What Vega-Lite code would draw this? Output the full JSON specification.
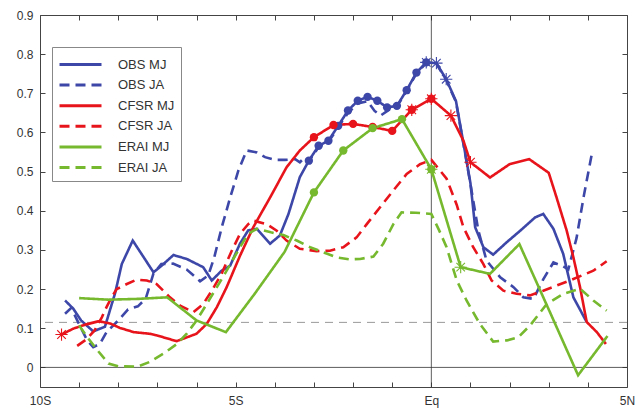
{
  "$schema": "https://vega.github.io/schema/vega-lite/v6.json",
  "width": 587,
  "height": 372,
  "autosize": {"type": "none"},
  "padding": {"left": 40, "top": 15, "right": 11, "bottom": 27},
  "background": "white",
  "config": {"view": {"stroke": null}, "font": "Liberation Sans"},
  "datasets": {
    "d": [
      {"s":"OBS MJ","x":-9.36,"y":0.171,"mk":""},
      {"s":"OBS MJ","x":-9.15,"y":0.150,"mk":""},
      {"s":"OBS MJ","x":-8.95,"y":0.120,"mk":""},
      {"s":"OBS MJ","x":-8.64,"y":0.092,"mk":""},
      {"s":"OBS MJ","x":-8.34,"y":0.104,"mk":""},
      {"s":"OBS MJ","x":-8.08,"y":0.190,"mk":""},
      {"s":"OBS MJ","x":-7.91,"y":0.264,"mk":""},
      {"s":"OBS MJ","x":-7.63,"y":0.324,"mk":""},
      {"s":"OBS MJ","x":-7.10,"y":0.243,"mk":""},
      {"s":"OBS MJ","x":-6.89,"y":0.260,"mk":""},
      {"s":"OBS MJ","x":-6.59,"y":0.287,"mk":""},
      {"s":"OBS MJ","x":-6.25,"y":0.277,"mk":""},
      {"s":"OBS MJ","x":-5.83,"y":0.256,"mk":""},
      {"s":"OBS MJ","x":-5.61,"y":0.222,"mk":""},
      {"s":"OBS MJ","x":-5.36,"y":0.247,"mk":""},
      {"s":"OBS MJ","x":-5.14,"y":0.260,"mk":""},
      {"s":"OBS MJ","x":-4.89,"y":0.316,"mk":""},
      {"s":"OBS MJ","x":-4.68,"y":0.350,"mk":""},
      {"s":"OBS MJ","x":-4.46,"y":0.354,"mk":""},
      {"s":"OBS MJ","x":-4.12,"y":0.316,"mk":""},
      {"s":"OBS MJ","x":-3.87,"y":0.337,"mk":""},
      {"s":"OBS MJ","x":-3.65,"y":0.392,"mk":""},
      {"s":"OBS MJ","x":-3.36,"y":0.486,"mk":""},
      {"s":"OBS MJ","x":-3.13,"y":0.528,"mk":"dot"},
      {"s":"OBS MJ","x":-2.88,"y":0.566,"mk":"dot"},
      {"s":"OBS MJ","x":-2.63,"y":0.579,"mk":"dot"},
      {"s":"OBS MJ","x":-2.38,"y":0.617,"mk":"dot"},
      {"s":"OBS MJ","x":-2.13,"y":0.656,"mk":"dot"},
      {"s":"OBS MJ","x":-1.88,"y":0.681,"mk":"dot"},
      {"s":"OBS MJ","x":-1.63,"y":0.691,"mk":"dot"},
      {"s":"OBS MJ","x":-1.38,"y":0.681,"mk":"dot"},
      {"s":"OBS MJ","x":-1.13,"y":0.664,"mk":"dot"},
      {"s":"OBS MJ","x":-0.88,"y":0.668,"mk":"dot"},
      {"s":"OBS MJ","x":-0.63,"y":0.708,"mk":"dot"},
      {"s":"OBS MJ","x":-0.38,"y":0.753,"mk":"dot"},
      {"s":"OBS MJ","x":-0.13,"y":0.779,"mk":"dotstar"},
      {"s":"OBS MJ","x":0.13,"y":0.777,"mk":"star"},
      {"s":"OBS MJ","x":0.38,"y":0.736,"mk":"star"},
      {"s":"OBS MJ","x":0.63,"y":0.680,"mk":""},
      {"s":"OBS MJ","x":0.86,"y":0.550,"mk":""},
      {"s":"OBS MJ","x":1.00,"y":0.470,"mk":""},
      {"s":"OBS MJ","x":1.12,"y":0.358,"mk":""},
      {"s":"OBS MJ","x":1.33,"y":0.307,"mk":""},
      {"s":"OBS MJ","x":1.58,"y":0.288,"mk":""},
      {"s":"OBS MJ","x":1.93,"y":0.320,"mk":""},
      {"s":"OBS MJ","x":2.27,"y":0.349,"mk":""},
      {"s":"OBS MJ","x":2.65,"y":0.383,"mk":""},
      {"s":"OBS MJ","x":2.86,"y":0.392,"mk":""},
      {"s":"OBS MJ","x":3.12,"y":0.354,"mk":""},
      {"s":"OBS MJ","x":3.37,"y":0.290,"mk":""},
      {"s":"OBS MJ","x":3.63,"y":0.179,"mk":""},
      {"s":"OBS MJ","x":3.97,"y":0.116,"mk":""},

      {"s":"OBS JA","x":-9.36,"y":0.137,"mk":""},
      {"s":"OBS JA","x":-9.20,"y":0.152,"mk":""},
      {"s":"OBS JA","x":-9.00,"y":0.110,"mk":""},
      {"s":"OBS JA","x":-8.80,"y":0.070,"mk":""},
      {"s":"OBS JA","x":-8.64,"y":0.052,"mk":""},
      {"s":"OBS JA","x":-8.47,"y":0.060,"mk":""},
      {"s":"OBS JA","x":-8.30,"y":0.090,"mk":""},
      {"s":"OBS JA","x":-8.00,"y":0.120,"mk":""},
      {"s":"OBS JA","x":-7.75,"y":0.148,"mk":""},
      {"s":"OBS JA","x":-7.50,"y":0.156,"mk":""},
      {"s":"OBS JA","x":-7.30,"y":0.175,"mk":""},
      {"s":"OBS JA","x":-7.10,"y":0.240,"mk":""},
      {"s":"OBS JA","x":-6.90,"y":0.264,"mk":""},
      {"s":"OBS JA","x":-6.60,"y":0.265,"mk":""},
      {"s":"OBS JA","x":-6.25,"y":0.250,"mk":""},
      {"s":"OBS JA","x":-5.91,"y":0.220,"mk":""},
      {"s":"OBS JA","x":-5.70,"y":0.235,"mk":""},
      {"s":"OBS JA","x":-5.55,"y":0.280,"mk":""},
      {"s":"OBS JA","x":-5.35,"y":0.360,"mk":""},
      {"s":"OBS JA","x":-5.14,"y":0.434,"mk":""},
      {"s":"OBS JA","x":-4.93,"y":0.503,"mk":""},
      {"s":"OBS JA","x":-4.72,"y":0.554,"mk":""},
      {"s":"OBS JA","x":-4.46,"y":0.549,"mk":""},
      {"s":"OBS JA","x":-4.25,"y":0.537,"mk":""},
      {"s":"OBS JA","x":-4.00,"y":0.530,"mk":""},
      {"s":"OBS JA","x":-3.74,"y":0.530,"mk":""},
      {"s":"OBS JA","x":-3.48,"y":0.532,"mk":""},
      {"s":"OBS JA","x":-3.36,"y":0.524,"mk":""},
      {"s":"OBS JA","x":-3.23,"y":0.537,"mk":""},
      {"s":"OBS JA","x":-3.13,"y":0.526,"mk":""},
      {"s":"OBS JA","x":-2.88,"y":0.563,"mk":""},
      {"s":"OBS JA","x":-2.63,"y":0.576,"mk":""},
      {"s":"OBS JA","x":-2.38,"y":0.613,"mk":""},
      {"s":"OBS JA","x":-2.13,"y":0.650,"mk":""},
      {"s":"OBS JA","x":-1.88,"y":0.674,"mk":""},
      {"s":"OBS JA","x":-1.63,"y":0.680,"mk":""},
      {"s":"OBS JA","x":-1.45,"y":0.655,"mk":""},
      {"s":"OBS JA","x":-1.30,"y":0.643,"mk":""},
      {"s":"OBS JA","x":-1.05,"y":0.660,"mk":""},
      {"s":"OBS JA","x":-0.88,"y":0.666,"mk":""},
      {"s":"OBS JA","x":-0.63,"y":0.706,"mk":""},
      {"s":"OBS JA","x":-0.38,"y":0.751,"mk":""},
      {"s":"OBS JA","x":-0.13,"y":0.777,"mk":""},
      {"s":"OBS JA","x":0.13,"y":0.775,"mk":""},
      {"s":"OBS JA","x":0.38,"y":0.734,"mk":""},
      {"s":"OBS JA","x":0.63,"y":0.678,"mk":""},
      {"s":"OBS JA","x":0.86,"y":0.548,"mk":""},
      {"s":"OBS JA","x":1.00,"y":0.468,"mk":""},
      {"s":"OBS JA","x":1.20,"y":0.350,"mk":""},
      {"s":"OBS JA","x":1.41,"y":0.273,"mk":""},
      {"s":"OBS JA","x":1.76,"y":0.230,"mk":""},
      {"s":"OBS JA","x":2.10,"y":0.205,"mk":""},
      {"s":"OBS JA","x":2.35,"y":0.179,"mk":""},
      {"s":"OBS JA","x":2.61,"y":0.175,"mk":""},
      {"s":"OBS JA","x":2.86,"y":0.225,"mk":""},
      {"s":"OBS JA","x":3.12,"y":0.268,"mk":""},
      {"s":"OBS JA","x":3.37,"y":0.258,"mk":""},
      {"s":"OBS JA","x":3.50,"y":0.250,"mk":""},
      {"s":"OBS JA","x":3.71,"y":0.330,"mk":""},
      {"s":"OBS JA","x":3.90,"y":0.440,"mk":""},
      {"s":"OBS JA","x":4.12,"y":0.555,"mk":""},

      {"s":"CFSR MJ","x":-9.45,"y":0.084,"mk":"star"},
      {"s":"CFSR MJ","x":-9.15,"y":0.099,"mk":""},
      {"s":"CFSR MJ","x":-8.85,"y":0.109,"mk":""},
      {"s":"CFSR MJ","x":-8.50,"y":0.118,"mk":""},
      {"s":"CFSR MJ","x":-8.20,"y":0.112,"mk":""},
      {"s":"CFSR MJ","x":-7.96,"y":0.101,"mk":""},
      {"s":"CFSR MJ","x":-7.60,"y":0.090,"mk":""},
      {"s":"CFSR MJ","x":-7.20,"y":0.086,"mk":""},
      {"s":"CFSR MJ","x":-7.02,"y":0.082,"mk":""},
      {"s":"CFSR MJ","x":-6.51,"y":0.067,"mk":""},
      {"s":"CFSR MJ","x":-6.00,"y":0.086,"mk":""},
      {"s":"CFSR MJ","x":-5.74,"y":0.111,"mk":""},
      {"s":"CFSR MJ","x":-5.48,"y":0.154,"mk":""},
      {"s":"CFSR MJ","x":-5.23,"y":0.205,"mk":""},
      {"s":"CFSR MJ","x":-4.89,"y":0.285,"mk":""},
      {"s":"CFSR MJ","x":-4.55,"y":0.358,"mk":""},
      {"s":"CFSR MJ","x":-4.12,"y":0.434,"mk":""},
      {"s":"CFSR MJ","x":-3.70,"y":0.511,"mk":""},
      {"s":"CFSR MJ","x":-3.36,"y":0.554,"mk":""},
      {"s":"CFSR MJ","x":-3.00,"y":0.588,"mk":"dot"},
      {"s":"CFSR MJ","x":-2.50,"y":0.619,"mk":"dot"},
      {"s":"CFSR MJ","x":-2.00,"y":0.622,"mk":"dot"},
      {"s":"CFSR MJ","x":-1.50,"y":0.614,"mk":"dot"},
      {"s":"CFSR MJ","x":-1.00,"y":0.604,"mk":"dot"},
      {"s":"CFSR MJ","x":-0.50,"y":0.658,"mk":"dotstar"},
      {"s":"CFSR MJ","x":0.00,"y":0.686,"mk":"dotstar"},
      {"s":"CFSR MJ","x":0.50,"y":0.643,"mk":"star"},
      {"s":"CFSR MJ","x":0.82,"y":0.579,"mk":""},
      {"s":"CFSR MJ","x":1.00,"y":0.524,"mk":"star"},
      {"s":"CFSR MJ","x":1.50,"y":0.485,"mk":""},
      {"s":"CFSR MJ","x":2.00,"y":0.519,"mk":""},
      {"s":"CFSR MJ","x":2.50,"y":0.532,"mk":""},
      {"s":"CFSR MJ","x":3.00,"y":0.497,"mk":""},
      {"s":"CFSR MJ","x":3.20,"y":0.434,"mk":""},
      {"s":"CFSR MJ","x":3.46,"y":0.349,"mk":""},
      {"s":"CFSR MJ","x":3.63,"y":0.281,"mk":""},
      {"s":"CFSR MJ","x":3.80,"y":0.205,"mk":""},
      {"s":"CFSR MJ","x":3.97,"y":0.116,"mk":""},
      {"s":"CFSR MJ","x":4.23,"y":0.090,"mk":""},
      {"s":"CFSR MJ","x":4.46,"y":0.060,"mk":""},

      {"s":"CFSR JA","x":-9.05,"y":0.055,"mk":""},
      {"s":"CFSR JA","x":-8.81,"y":0.072,"mk":""},
      {"s":"CFSR JA","x":-8.60,"y":0.095,"mk":""},
      {"s":"CFSR JA","x":-8.42,"y":0.128,"mk":""},
      {"s":"CFSR JA","x":-8.30,"y":0.154,"mk":""},
      {"s":"CFSR JA","x":-8.17,"y":0.179,"mk":""},
      {"s":"CFSR JA","x":-8.04,"y":0.200,"mk":""},
      {"s":"CFSR JA","x":-7.78,"y":0.213,"mk":""},
      {"s":"CFSR JA","x":-7.53,"y":0.224,"mk":""},
      {"s":"CFSR JA","x":-7.27,"y":0.222,"mk":""},
      {"s":"CFSR JA","x":-7.02,"y":0.213,"mk":""},
      {"s":"CFSR JA","x":-6.68,"y":0.179,"mk":""},
      {"s":"CFSR JA","x":-6.42,"y":0.158,"mk":""},
      {"s":"CFSR JA","x":-6.08,"y":0.141,"mk":""},
      {"s":"CFSR JA","x":-5.83,"y":0.162,"mk":""},
      {"s":"CFSR JA","x":-5.61,"y":0.196,"mk":""},
      {"s":"CFSR JA","x":-5.36,"y":0.239,"mk":""},
      {"s":"CFSR JA","x":-5.10,"y":0.298,"mk":""},
      {"s":"CFSR JA","x":-4.89,"y":0.341,"mk":""},
      {"s":"CFSR JA","x":-4.68,"y":0.366,"mk":""},
      {"s":"CFSR JA","x":-4.55,"y":0.375,"mk":""},
      {"s":"CFSR JA","x":-4.21,"y":0.366,"mk":""},
      {"s":"CFSR JA","x":-3.95,"y":0.349,"mk":""},
      {"s":"CFSR JA","x":-3.70,"y":0.324,"mk":""},
      {"s":"CFSR JA","x":-3.36,"y":0.303,"mk":""},
      {"s":"CFSR JA","x":-2.93,"y":0.297,"mk":""},
      {"s":"CFSR JA","x":-2.59,"y":0.298,"mk":""},
      {"s":"CFSR JA","x":-2.25,"y":0.307,"mk":""},
      {"s":"CFSR JA","x":-1.91,"y":0.332,"mk":""},
      {"s":"CFSR JA","x":-1.65,"y":0.366,"mk":""},
      {"s":"CFSR JA","x":-1.31,"y":0.409,"mk":""},
      {"s":"CFSR JA","x":-0.97,"y":0.452,"mk":""},
      {"s":"CFSR JA","x":-0.63,"y":0.494,"mk":""},
      {"s":"CFSR JA","x":-0.29,"y":0.519,"mk":""},
      {"s":"CFSR JA","x":0.00,"y":0.530,"mk":""},
      {"s":"CFSR JA","x":0.39,"y":0.482,"mk":""},
      {"s":"CFSR JA","x":0.65,"y":0.415,"mk":""},
      {"s":"CFSR JA","x":0.82,"y":0.358,"mk":""},
      {"s":"CFSR JA","x":1.07,"y":0.307,"mk":""},
      {"s":"CFSR JA","x":1.33,"y":0.264,"mk":""},
      {"s":"CFSR JA","x":1.54,"y":0.222,"mk":""},
      {"s":"CFSR JA","x":1.84,"y":0.196,"mk":""},
      {"s":"CFSR JA","x":2.18,"y":0.188,"mk":""},
      {"s":"CFSR JA","x":2.52,"y":0.184,"mk":""},
      {"s":"CFSR JA","x":2.86,"y":0.196,"mk":""},
      {"s":"CFSR JA","x":3.20,"y":0.209,"mk":""},
      {"s":"CFSR JA","x":3.54,"y":0.222,"mk":""},
      {"s":"CFSR JA","x":4.14,"y":0.247,"mk":""},
      {"s":"CFSR JA","x":4.48,"y":0.271,"mk":""},

      {"s":"ERAI MJ","x":-9.00,"y":0.177,"mk":""},
      {"s":"ERAI MJ","x":-8.25,"y":0.173,"mk":""},
      {"s":"ERAI MJ","x":-7.50,"y":0.175,"mk":""},
      {"s":"ERAI MJ","x":-6.75,"y":0.179,"mk":""},
      {"s":"ERAI MJ","x":-6.00,"y":0.120,"mk":""},
      {"s":"ERAI MJ","x":-5.25,"y":0.090,"mk":""},
      {"s":"ERAI MJ","x":-4.50,"y":0.190,"mk":""},
      {"s":"ERAI MJ","x":-3.75,"y":0.295,"mk":""},
      {"s":"ERAI MJ","x":-3.00,"y":0.447,"mk":"dot"},
      {"s":"ERAI MJ","x":-2.25,"y":0.554,"mk":"dot"},
      {"s":"ERAI MJ","x":-1.50,"y":0.611,"mk":"dot"},
      {"s":"ERAI MJ","x":-0.75,"y":0.634,"mk":"dot"},
      {"s":"ERAI MJ","x":0.00,"y":0.506,"mk":"dotstar"},
      {"s":"ERAI MJ","x":0.75,"y":0.256,"mk":"star"},
      {"s":"ERAI MJ","x":1.50,"y":0.239,"mk":""},
      {"s":"ERAI MJ","x":2.25,"y":0.315,"mk":""},
      {"s":"ERAI MJ","x":3.00,"y":0.148,"mk":""},
      {"s":"ERAI MJ","x":3.75,"y":-0.020,"mk":""},
      {"s":"ERAI MJ","x":4.50,"y":0.080,"mk":""},

      {"s":"ERAI JA","x":-9.00,"y":0.107,"mk":""},
      {"s":"ERAI JA","x":-8.75,"y":0.072,"mk":""},
      {"s":"ERAI JA","x":-8.50,"y":0.040,"mk":""},
      {"s":"ERAI JA","x":-8.25,"y":0.010,"mk":""},
      {"s":"ERAI JA","x":-8.00,"y":0.003,"mk":""},
      {"s":"ERAI JA","x":-7.50,"y":0.002,"mk":""},
      {"s":"ERAI JA","x":-7.20,"y":0.014,"mk":""},
      {"s":"ERAI JA","x":-6.85,"y":0.035,"mk":""},
      {"s":"ERAI JA","x":-6.50,"y":0.060,"mk":""},
      {"s":"ERAI JA","x":-6.25,"y":0.086,"mk":""},
      {"s":"ERAI JA","x":-6.00,"y":0.120,"mk":""},
      {"s":"ERAI JA","x":-5.74,"y":0.162,"mk":""},
      {"s":"ERAI JA","x":-5.48,"y":0.205,"mk":""},
      {"s":"ERAI JA","x":-5.23,"y":0.247,"mk":""},
      {"s":"ERAI JA","x":-4.89,"y":0.307,"mk":""},
      {"s":"ERAI JA","x":-4.68,"y":0.341,"mk":""},
      {"s":"ERAI JA","x":-4.46,"y":0.354,"mk":""},
      {"s":"ERAI JA","x":-4.10,"y":0.345,"mk":""},
      {"s":"ERAI JA","x":-3.78,"y":0.338,"mk":""},
      {"s":"ERAI JA","x":-3.44,"y":0.324,"mk":""},
      {"s":"ERAI JA","x":-3.10,"y":0.307,"mk":""},
      {"s":"ERAI JA","x":-2.76,"y":0.294,"mk":""},
      {"s":"ERAI JA","x":-2.42,"y":0.281,"mk":""},
      {"s":"ERAI JA","x":-2.10,"y":0.276,"mk":""},
      {"s":"ERAI JA","x":-1.82,"y":0.277,"mk":""},
      {"s":"ERAI JA","x":-1.48,"y":0.283,"mk":""},
      {"s":"ERAI JA","x":-1.23,"y":0.316,"mk":""},
      {"s":"ERAI JA","x":-0.97,"y":0.366,"mk":""},
      {"s":"ERAI JA","x":-0.76,"y":0.396,"mk":""},
      {"s":"ERAI JA","x":-0.40,"y":0.395,"mk":""},
      {"s":"ERAI JA","x":0.00,"y":0.392,"mk":""},
      {"s":"ERAI JA","x":0.20,"y":0.350,"mk":""},
      {"s":"ERAI JA","x":0.39,"y":0.307,"mk":""},
      {"s":"ERAI JA","x":0.65,"y":0.222,"mk":""},
      {"s":"ERAI JA","x":0.90,"y":0.171,"mk":""},
      {"s":"ERAI JA","x":1.24,"y":0.111,"mk":""},
      {"s":"ERAI JA","x":1.58,"y":0.066,"mk":""},
      {"s":"ERAI JA","x":1.93,"y":0.069,"mk":""},
      {"s":"ERAI JA","x":2.22,"y":0.077,"mk":""},
      {"s":"ERAI JA","x":2.52,"y":0.107,"mk":""},
      {"s":"ERAI JA","x":2.95,"y":0.162,"mk":""},
      {"s":"ERAI JA","x":3.37,"y":0.188,"mk":""},
      {"s":"ERAI JA","x":3.80,"y":0.201,"mk":""},
      {"s":"ERAI JA","x":4.14,"y":0.171,"mk":""},
      {"s":"ERAI JA","x":4.48,"y":0.145,"mk":""}
    ]
  },
  "resolve": {"axis": {"x": "independent", "y": "independent"}},
  "layer": [
    {
      "data": {"values": [{}]},
      "mark": {"type": "rule", "color": "#333", "strokeWidth": 0.8},
      "encoding": {
        "y": {"datum": 0, "type": "quantitative", "scale": {"domain": [-0.05, 0.9], "nice": false, "zero": false}, "axis": null}
      }
    },
    {
      "data": {"values": [{}]},
      "mark": {"type": "rule", "color": "#333", "strokeWidth": 0.8},
      "encoding": {
        "x": {"datum": 0, "type": "quantitative", "scale": {"domain": [-10, 5], "nice": false, "zero": false},
          "axis": {"orient": "top", "values": [-10,-9,-8,-7,-6,-5,-4,-3,-2,-1,0,1,2,3,4,5], "labels": false, "tickSize": -5, "grid": false, "title": null, "domainColor": "#444", "tickColor": "#444"}}
      }
    },
    {
      "data": {"values": [{}]},
      "mark": {"type": "rule", "color": "#999", "strokeWidth": 1, "strokeDash": [8, 6]},
      "encoding": {
        "y": {"datum": 0.115, "type": "quantitative", "scale": {"domain": [-0.05, 0.9], "nice": false, "zero": false},
          "axis": {"orient": "right", "values": [0,0.1,0.2,0.3,0.4,0.5,0.6,0.7,0.8,0.9], "labels": false, "tickSize": -5, "grid": false, "title": null, "domainColor": "#444", "tickColor": "#444"}}
      }
    },
    {
      "data": {"name": "d"},
      "mark": {"type": "line", "strokeWidth": 2.6},
      "encoding": {
        "x": {"field": "x", "type": "quantitative", "scale": {"domain": [-10, 5], "nice": false, "zero": false},
          "axis": {"orient": "bottom", "values": [-10,-9,-8,-7,-6,-5,-4,-3,-2,-1,0,1,2,3,4,5],
            "labelExpr": "datum.value == -10 ? '10S' : datum.value == -5 ? '5S' : datum.value == 0 ? 'Eq' : datum.value == 5 ? '5N' : ''",
            "tickSize": -5, "labelPadding": 13, "grid": false, "title": null, "domainColor": "#444", "tickColor": "#444",
            "labelFontSize": 12, "labelColor": "#333", "labelOverlap": false, "labelFlush": false, "labelBound": false}},
        "y": {"field": "y", "type": "quantitative", "scale": {"domain": [-0.05, 0.9], "nice": false, "zero": false},
          "axis": {"orient": "left", "values": [0,0.1,0.2,0.3,0.4,0.5,0.6,0.7,0.8,0.9],
            "labelExpr": "datum.value == 0 ? '0' : format(datum.value, '.1f')",
            "tickSize": -5, "labelPadding": 12, "grid": false, "title": null, "domainColor": "#444", "tickColor": "#444",
            "labelFontSize": 12, "labelColor": "#333", "labelOverlap": false, "labelFlush": false}},
        "color": {"field": "s", "type": "nominal",
          "scale": {"domain": ["OBS MJ","OBS JA","CFSR MJ","CFSR JA","ERAI MJ","ERAI JA"],
                    "range": ["#3d47a8","#3d47a8","#e8141c","#e8141c","#76b82e","#76b82e"]},
          "legend": {"orient": "none", "legendX": 12, "legendY": 32, "title": null,
            "symbolType": "M-2.1,0H2.1", "symbolSize": 400, "symbolStrokeWidth": 3, "symbolOffset": 11,
            "labelFontSize": 13, "labelColor": "#333", "labelOffset": 26, "padding": 6, "rowPadding": 1.6,
            "strokeColor": "#888", "fillColor": "white", "cornerRadius": 0}},
        "strokeDash": {"field": "s", "type": "nominal",
          "scale": {"domain": ["OBS MJ","OBS JA","CFSR MJ","CFSR JA","ERAI MJ","ERAI JA"],
                    "range": [[1,0],[10,6],[1,0],[10,6],[1,0],[10,6]]},
          "legend": {"orient": "none", "legendX": 12, "legendY": 32, "title": null,
            "symbolType": "M-2.1,0H2.1", "symbolSize": 400, "symbolStrokeWidth": 3, "symbolOffset": 11,
            "labelFontSize": 13, "labelColor": "#333", "labelOffset": 26, "padding": 6, "rowPadding": 1.6,
            "strokeColor": "#888", "fillColor": "white", "cornerRadius": 0}}
      }
    },
    {
      "data": {"name": "d"},
      "transform": [{"filter": "indexof(datum.mk, 'dot') >= 0"}],
      "mark": {"type": "point", "filled": true, "shape": "circle", "size": 70, "opacity": 1},
      "encoding": {
        "x": {"field": "x", "type": "quantitative", "scale": {"domain": [-10, 5], "nice": false, "zero": false}, "axis": null},
        "y": {"field": "y", "type": "quantitative", "scale": {"domain": [-0.05, 0.9], "nice": false, "zero": false}, "axis": null},
        "color": {"field": "s", "type": "nominal", "legend": null}
      }
    },
    {
      "data": {"name": "d"},
      "transform": [{"filter": "indexof(datum.mk, 'star') >= 0"}],
      "mark": {"type": "point", "filled": false, "shape": "M-1,0L1,0M0,-1L0,1M-0.7,-0.7L0.7,0.7M-0.7,0.7L0.7,-0.7", "size": 150, "strokeWidth": 1.1, "opacity": 1},
      "encoding": {
        "x": {"field": "x", "type": "quantitative", "scale": {"domain": [-10, 5], "nice": false, "zero": false}, "axis": null},
        "y": {"field": "y", "type": "quantitative", "scale": {"domain": [-0.05, 0.9], "nice": false, "zero": false}, "axis": null},
        "color": {"field": "s", "type": "nominal", "legend": null}
      }
    }
  ]
}
